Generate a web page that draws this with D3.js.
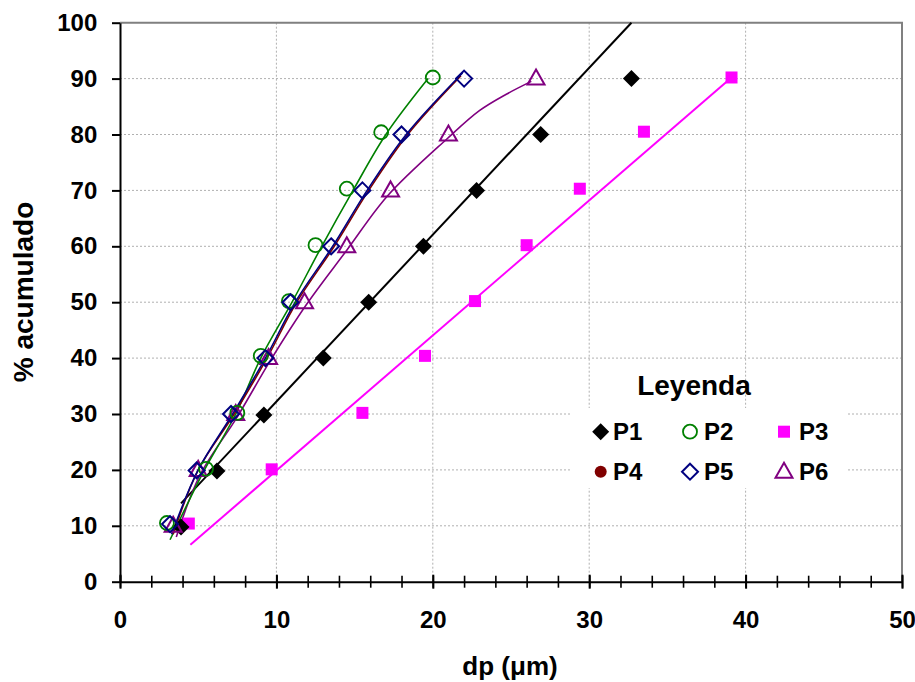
<!DOCTYPE html>
<html>
<head>
<meta charset="utf-8">
<script src="https://cdn.jsdelivr.net/npm/d3@7"></script>
<style>
  html, body { margin: 0; padding: 0; background: #fff; }
  svg { display: block; font-family: "Liberation Sans", Arial, sans-serif; font-weight: bold; }
</style>
</head>
<body>
<svg id="chart" width="915" height="682"></svg>
<script>
// ---------- DATA ----------
const xTicks = [0, 10, 20, 30, 40, 50];
const xMinorTicks = d3.range(0, 51, 2);
const yTicks = [0, 10, 20, 30, 40, 50, 60, 70, 80, 90, 100];
const seriesNames = ["P1", "P2", "P3", "P4", "P5", "P6"];

// measured points
const p1X = [3.9, 6.2, 9.2, 13.0, 15.9, 19.4, 22.8, 26.9, 32.7];
const p1Y = [9.8, 19.8, 29.8, 40.0, 50.0, 60.0, 70.0, 80.0, 90.0];
const p2X = [3.0, 5.5, 7.5, 9.0, 10.8, 12.5, 14.5, 16.7, 20.0];
const p2Y = [10.5, 20.2, 30.2, 40.4, 50.2, 60.2, 70.3, 80.4, 90.2];
const p3X = [4.4, 9.7, 15.5, 19.5, 22.7, 26.0, 29.4, 33.5, 39.1];
const p3Y = [10.4, 20.1, 30.2, 40.4, 50.2, 60.2, 70.3, 80.5, 90.2];
const p5X = [3.2, 4.9, 7.1, 9.3, 10.9, 13.5, 15.5, 18.0, 22.0];
const p5Y = [10.3, 19.9, 30.0, 40.0, 50.0, 60.0, 70.0, 80.0, 90.0];
const p6X = [3.4, 5.0, 7.4, 9.5, 11.8, 14.5, 17.3, 21.0, 26.6];
const p6Y = [10.0, 20.0, 30.0, 40.0, 50.0, 60.0, 70.0, 80.0, 90.0];

// fitted lines / curves
const p1LineX = [3.9, 32.7];
const p1LineY = [14.0, 100.0];
const p3LineX = [4.5, 39.1];
const p3LineY = [6.6, 90.2];
const p2CurveX = [3.2, 4.5, 5.4, 7.4, 9.0, 11.0, 12.9, 14.9, 17.0, 19.7];
const p2CurveY = [7.5, 15.0, 20.0, 30.0, 40.0, 50.0, 60.0, 70.0, 80.0, 90.0];
const p4CurveX = [3.4, 5.0, 7.3, 9.4, 11.3, 13.7, 15.9, 18.4, 21.8];
const p4CurveY = [8.5, 20.0, 30.0, 40.0, 50.0, 60.0, 70.0, 80.0, 90.5];
const p5CurveX = [3.3, 5.0, 7.2, 9.3, 11.2, 13.6, 15.8, 18.3, 21.9];
const p5CurveY = [8.5, 20.0, 30.0, 40.0, 50.0, 60.0, 70.0, 80.0, 91.0];
const p6CurveX = [3.6, 5.1, 7.5, 9.6, 11.9, 14.5, 17.1, 20.9, 23.0, 24.7, 26.3];
const p6CurveY = [8.0, 19.0, 29.5, 39.5, 49.5, 59.3, 69.0, 79.2, 84.3, 87.2, 89.5];

const colors = { P1: "#000000", P2: "#008000", P3: "#ff00ff", P4: "#800000", P5: "#000080", P6: "#800080" };

// ---------- SETUP ----------
const svg = d3.select("#chart");
const L = 120, R = 902, T = 22.7, B = 581.7;
const x = d3.scaleLinear().domain([0, 50]).range([L, R]);
const y = d3.scaleLinear().domain([0, 100]).range([B, T]);
const zip = (xs, ys) => xs.map((v, i) => [v, ys[i]]);

// gridlines
const grid = svg.append("g");
grid.selectAll("line.h").data(yTicks.filter(t => t > 0 && t < 100)).join("line")
  .attr("x1", L).attr("x2", R).attr("y1", d => y(d)).attr("y2", d => y(d))
  .attr("stroke", "#b0b0b0").attr("stroke-width", 1).attr("stroke-dasharray", "2,2");
grid.selectAll("line.v").data(xTicks.filter(t => t > 0 && t < 50)).join("line")
  .attr("x1", d => x(d)).attr("x2", d => x(d)).attr("y1", T).attr("y2", B)
  .attr("stroke", "#b0b0b0").attr("stroke-width", 1).attr("stroke-dasharray", "2,2");

// plot border (top / right gray)
svg.append("path")
  .attr("d", `M${L},${T}H${R}V${B}`)
  .attr("fill", "none").attr("stroke", "#808080").attr("stroke-width", 2);

// legend background (covers grid)
svg.append("rect").attr("x", 570).attr("y", 408).attr("width", 277).attr("height", 80).attr("fill", "#fff");

// ---------- LINES ----------
const lineGen = d3.line().x(d => x(d[0])).y(d => y(d[1]));
const curveGen = d3.line().x(d => x(d[0])).y(d => y(d[1])).curve(d3.curveCatmullRom.alpha(0.5));

svg.append("path").datum(zip(p1LineX, p1LineY)).attr("d", lineGen)
  .attr("fill", "none").attr("stroke", colors.P1).attr("stroke-width", 2);
svg.append("path").datum(zip(p3LineX, p3LineY)).attr("d", lineGen)
  .attr("fill", "none").attr("stroke", colors.P3).attr("stroke-width", 2);

[[p6CurveX, p6CurveY, colors.P6], [p2CurveX, p2CurveY, colors.P2],
 [p4CurveX, p4CurveY, colors.P4], [p5CurveX, p5CurveY, colors.P5]].forEach(([xs, ys, c]) => {
  svg.append("path").datum(zip(xs, ys)).attr("d", curveGen)
    .attr("fill", "none").attr("stroke", c).attr("stroke-width", 1.6);
});

// ---------- MARKERS ----------
function marker(g, type, cx, cy) {
  if (type === "P1") {
    g.append("path").attr("d", `M${cx},${cy - 8.5}L${cx + 8.5},${cy}L${cx},${cy + 8.5}L${cx - 8.5},${cy}Z`)
      .attr("fill", colors.P1);
  } else if (type === "P2") {
    g.append("circle").attr("cx", cx).attr("cy", cy).attr("r", 7)
      .attr("fill", "none").attr("stroke", colors.P2).attr("stroke-width", 1.8);
  } else if (type === "P3") {
    g.append("rect").attr("x", cx - 6).attr("y", cy - 6).attr("width", 12).attr("height", 12)
      .attr("fill", colors.P3);
  } else if (type === "P4") {
    g.append("circle").attr("cx", cx).attr("cy", cy).attr("r", 6).attr("fill", colors.P4);
  } else if (type === "P5") {
    g.append("path").attr("d", `M${cx},${cy - 8}L${cx + 8},${cy}L${cx},${cy + 8}L${cx - 8},${cy}Z`)
      .attr("fill", "none").attr("stroke", colors.P5).attr("stroke-width", 2);
  } else if (type === "P6") {
    g.append("path").attr("d", `M${cx},${cy - 9}L${cx + 8.5},${cy + 6}L${cx - 8.5},${cy + 6}Z`)
      .attr("fill", "none").attr("stroke", colors.P6).attr("stroke-width", 2);
  }
}
const mg = svg.append("g");
[["P3", p3X, p3Y], ["P1", p1X, p1Y], ["P6", p6X, p6Y], ["P2", p2X, p2Y], ["P5", p5X, p5Y]]
  .forEach(([name, xs, ys]) => xs.forEach((v, i) => marker(mg, name, x(v), y(ys[i]))));

// ---------- AXES ----------
const fontSize = "24px";
const yAxis = svg.append("g").attr("transform", `translate(${L},0)`)
  .call(d3.axisLeft(y).tickValues(yTicks).tickSize(8).tickSizeOuter(0).tickPadding(14.7));
yAxis.select(".domain").attr("stroke", "#000").attr("stroke-width", 2);
yAxis.selectAll(".tick line").attr("stroke", "#000").attr("stroke-width", 2);
yAxis.selectAll("text").attr("font-size", fontSize).attr("font-weight", "bold").attr("fill", "#000")
  .attr("font-family", "Liberation Sans, Arial, sans-serif");

const xMinor = svg.append("g").attr("transform", `translate(0,${B})`)
  .call(d3.axisBottom(x).tickValues(xMinorTicks).tickSize(6).tickSizeOuter(0).tickFormat(""));
xMinor.select(".domain").attr("stroke", "#000").attr("stroke-width", 2);
xMinor.selectAll(".tick line").attr("y1", -6).attr("stroke", "#000").attr("stroke-width", 1.6);

const xAxis = svg.append("g").attr("transform", `translate(0,${B})`)
  .call(d3.axisBottom(x).tickValues(xTicks).tickSize(7).tickSizeOuter(0).tickPadding(22));
xAxis.select(".domain").remove();
xAxis.selectAll(".tick line").attr("y1", -7).attr("stroke", "#000").attr("stroke-width", 2);
xAxis.selectAll("text").attr("font-size", fontSize).attr("font-weight", "bold").attr("fill", "#000")
  .attr("font-family", "Liberation Sans, Arial, sans-serif");

// axis titles
svg.append("text").attr("x", 510).attr("y", 675).attr("text-anchor", "middle")
  .attr("font-size", "26px").text("dp (μm)");
svg.append("text").attr("transform", "translate(33,292) rotate(-90)").attr("text-anchor", "middle")
  .attr("font-size", "28px").text("% acumulado");

// ---------- LEGEND ----------
svg.append("text").attr("x", 694).attr("y", 395).attr("text-anchor", "middle")
  .attr("font-size", "28px").text("Leyenda");
const legX = [600.7, 690, 784];
const legTX = [613, 704, 799];
const legRowY = [431.7, 471.7];
const leg = svg.append("g");
seriesNames.forEach((name, i) => {
  const col = i % 3, row = Math.floor(i / 3);
  marker(leg, name, legX[col], legRowY[row]);
  leg.append("text").attr("x", legTX[col]).attr("y", legRowY[row] + 8.5)
    .attr("font-size", "24px").text(name);
});
</script>
</body>
</html>
